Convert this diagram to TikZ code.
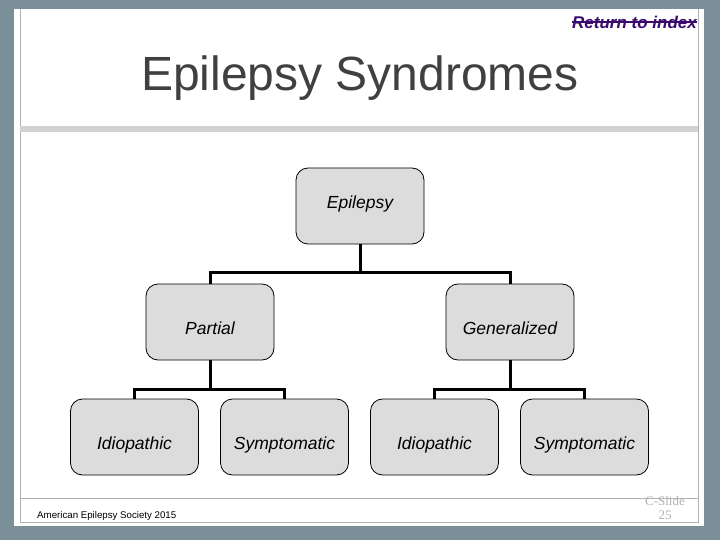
\documentclass[tikz,border=0pt]{standalone}
\usepackage{fontspec}
\setmainfont{Liberation Sans}
\newfontfamily\slidefont{Liberation Serif}
\definecolor{frame}{HTML}{7B8F98}
\definecolor{boxfill}{HTML}{DCDCDC}
\definecolor{linkc}{HTML}{3A0A6E}
\definecolor{titlec}{HTML}{404040}
\tikzset{
  box/.style={draw=black, line width=0.8pt, fill=boxfill, rounded corners=12pt,
    minimum width=128pt, minimum height=76pt, inner sep=0pt,
    font=\fontsize{17.5}{19}\selectfont\itshape},
  conn/.style={line width=3pt, black}
}
\newcommand{\lowtxt}[1]{\raisebox{-12pt}[0pt][0pt]{#1}}
\begin{document}
\begin{tikzpicture}[x=1pt,y=-1pt]
\useasboundingbox (0,0) rectangle (720,540);
\fill[frame] (0,0) rectangle (720,540);
\fill[white] (14,9) rectangle (704,526);
\draw[gray!60, line width=1pt] (20,9) -- (20,522) -- (698,522) -- (698,9);
\fill[gray!35] (20,126) rectangle (698,132);
\draw[gray!60, line width=1pt] (20,498) -- (698,498);

\node[font=\fontsize{17}{19}\selectfont\bfseries\itshape, text=linkc, anchor=east, inner sep=0pt] (ret) at (697,22) {Return to index};
\draw[linkc, line width=1.3pt] (ret.west) -- (ret.east);
\node[font=\fontsize{48}{54}\selectfont, text=titlec] (title) at (360,78) {Epilepsy Syndromes};

\node[box] (epi) at (360,206) {\raisebox{-3pt}[0pt][0pt]{Epilepsy}};
\node[box] (par) at (210,322) {\lowtxt{Partial}};
\node[box] (gen) at (510,322) {\lowtxt{Generalized}};
\node[box] (i1) at (134.5,437) {\lowtxt{Idiopathic}};
\node[box] (s1) at (284.5,437) {\lowtxt{Symptomatic}};
\node[box] (i2) at (434.5,437) {\lowtxt{Idiopathic}};
\node[box] (s2) at (584.5,437) {\lowtxt{Symptomatic}};

\coordinate (j1) at (360,272);
\coordinate (j2) at (210,389);
\coordinate (j3) at (510,389);
\draw[conn] (epi.south) -- (j1);
\draw[conn] (j1) -| (par.north);
\draw[conn] (j1) -| (gen.north);
\draw[conn] (par.south) -- (j2);
\draw[conn] (j2) -| (i1.north);
\draw[conn] (j2) -| (s1.north);
\draw[conn] (gen.south) -- (j3);
\draw[conn] (j3) -| (i2.north);
\draw[conn] (j3) -| (s2.north);

\node[font=\fontsize{9.7}{11}\selectfont, anchor=west, inner sep=0pt] (foot) at (37,516) {American Epilepsy Society 2015};
\node[font=\fontsize{13}{14}\slidefont, text=gray!60, align=center] (cs) at (665,508) {C-Slide\\25};
\end{tikzpicture}
\end{document}
